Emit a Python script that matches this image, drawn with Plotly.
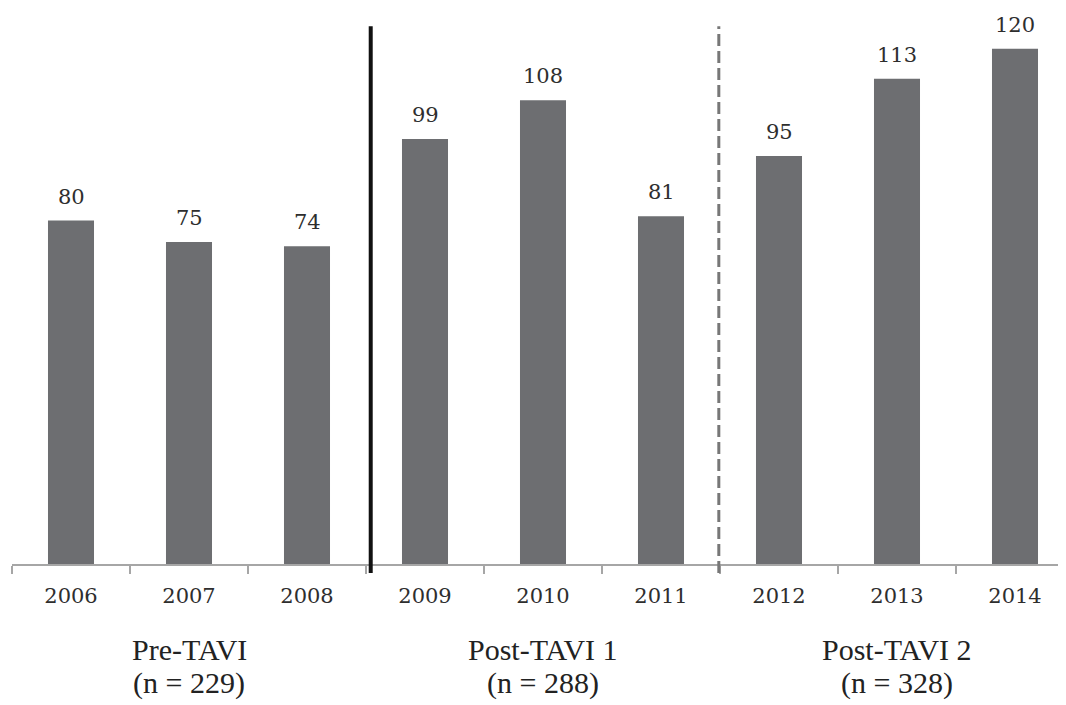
import plotly.graph_objects as go

years = ["2006", "2007", "2008", "2009", "2010", "2011", "2012", "2013", "2014"]
counts = [80, 75, 74, 99, 108, 81, 95, 113, 120]
group_names = ["Pre-TAVI", "Post-TAVI 1", "Post-TAVI 2"]
group_n = ["(n = 229)", "(n = 288)", "(n = 328)"]
group_centers = ["2007", "2010", "2013"]

bar_color = "#6d6e71"
text_color = "#2e2e2e"

pos = list(range(len(years)))
boundaries = [i - 0.5 for i in range(len(years) + 1)]

fig = go.Figure()
fig.add_trace(go.Bar(x=pos, y=counts, marker=dict(color=bar_color, line=dict(width=0)),
                     customdata=years, hovertemplate="%{customdata}: %{y}<extra></extra>"))

for p, v in zip(pos, counts):
    fig.add_annotation(x=p, y=v, text=str(v), showarrow=False, yanchor="bottom",
                       yshift=10, font=dict(family="DejaVu Serif", size=21, color=text_color))

for name, n, c in zip(group_names, group_n, group_centers):
    fig.add_annotation(x=years.index(c), y=0, text=name, showarrow=False, yanchor="top",
                       yshift=-67, font=dict(family="Liberation Serif", size=30, color="#222222"))
    fig.add_annotation(x=years.index(c), y=0, text=n, showarrow=False, yanchor="top",
                       yshift=-100, font=dict(family="Liberation Serif", size=30, color="#222222"))

# separators
fig.add_shape(type="line", xref="x", yref="paper", x0=2.54, x1=2.54, y0=-0.016, y1=0.967,
              line=dict(color="#111111", width=4))
fig.add_shape(type="line", xref="x", yref="paper", x0=5.49, x1=5.49, y0=-0.016, y1=0.967,
              line=dict(color="#777777", width=3, dash="12px,5px"))

fig.update_layout(
    width=1066, height=705,
    margin=dict(l=4, r=0, t=0, b=149),
    paper_bgcolor="white", plot_bgcolor="white",
    showlegend=False, bargap=0.61,
    xaxis=dict(range=[-0.5, len(years) - 0.5], showline=True, linecolor="#a6a6a6", linewidth=2,
               tickvals=pos, ticktext=years, ticks="outside", ticklen=12,
               tickcolor="rgba(0,0,0,0)", showgrid=False, zeroline=False,
               tickfont=dict(family="DejaVu Serif", size=21, color=text_color),
               minor=dict(tickvals=boundaries, ticks="outside", ticklen=8,
                          tickcolor="#a6a6a6", tickwidth=2, showgrid=False)),
    yaxis=dict(range=[0, 129.5], visible=False, showgrid=False),
)

fig.write_html("out.html")
